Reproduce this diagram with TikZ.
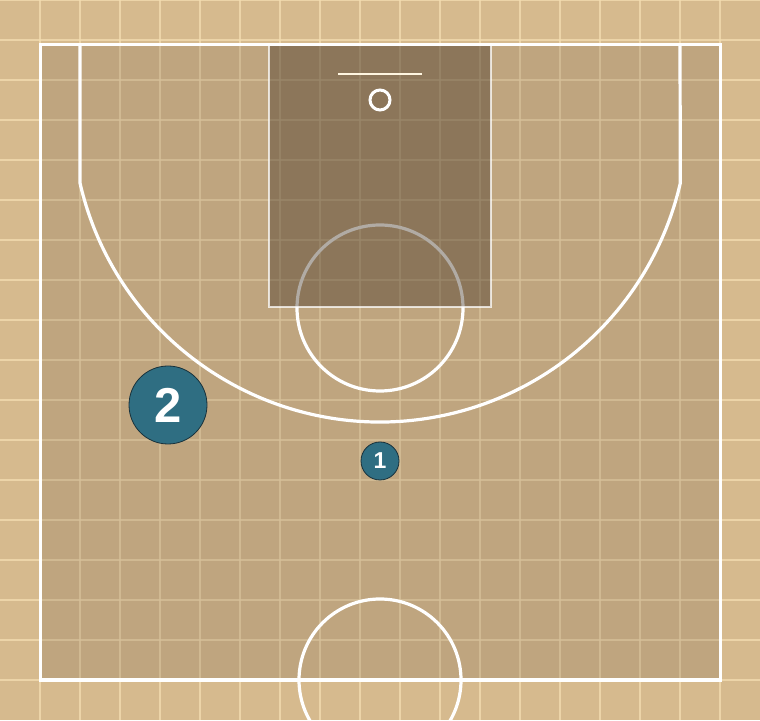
\documentclass[tikz,border=0pt]{standalone}
\usepackage{fontspec}
\setmainfont{Liberation Sans}
\definecolor{wood}{RGB}{214,186,142}
\definecolor{gridc}{RGB}{244,222,178}
\definecolor{courtshade}{RGB}{120,100,80}
\definecolor{paintc}{RGB}{70,55,40}
\definecolor{teal}{RGB}{47,110,130}
\definecolor{tealedge}{RGB}{25,50,60}
\definecolor{boardc}{RGB}{255,246,225}
\tikzset{
  courtline/.style={draw=white, line width=3.2pt},
  player/.style={circle, fill=teal, draw=tealedge, line width=0.8pt, text=white, font=\bfseries, inner sep=0pt},
}
\begin{document}
\begin{tikzpicture}[x=1pt,y=1pt]
\useasboundingbox (0,0) rectangle (760,720);
\clip (0,0) rectangle (760,720);
% wood background
\fill[wood] (0,0) rectangle (760,720);
\foreach \i in {40,80,...,720} {
  \draw[gridc, line width=1.2pt, opacity=0.75] (\i,0) -- (\i,720);
  \draw[gridc, line width=1.2pt, opacity=0.75] (0,\i) -- (760,\i);
}
% court shade
\fill[courtshade, opacity=0.24] (40,40) rectangle (720,675);
% free throw circle
\draw[courtline] (380,412) circle[radius=83];
% paint
\fill[paintc, opacity=0.42] (269,413) rectangle (491,675);
\draw[white, opacity=0.75, line width=2.6pt] (269,675) -- (269,413) -- (491,413) -- (491,675);
% three point line
\coordinate (tpl) at (80,675);
\coordinate (tpr) at (680,675);
\draw[courtline] (tpl) -- (80,537) arc[start angle=192.95, end angle=347.05, radius=308] -- (tpr);
% center circle
\draw[courtline] (380,40) circle[radius=81];
% court boundary
\draw[white, line width=3pt] (40,40) rectangle (720,675);
% backboard and hoop
\coordinate (bbl) at (338,646);
\coordinate (bbr) at (422,646);
\draw[boardc, line width=2pt] (bbl) -- (bbr);
\node[circle, draw=white, line width=3pt, minimum size=20pt, inner sep=0pt] (hoop) at (380,620) {};
% players
\node[player, minimum size=78pt, font=\bfseries\fontsize{49}{49}\selectfont] (p2) at (168,315) {2};
\node[player, minimum size=38pt, font=\bfseries\fontsize{23}{23}\selectfont] (p1) at (380,259) {1};
\end{tikzpicture}
\end{document}
